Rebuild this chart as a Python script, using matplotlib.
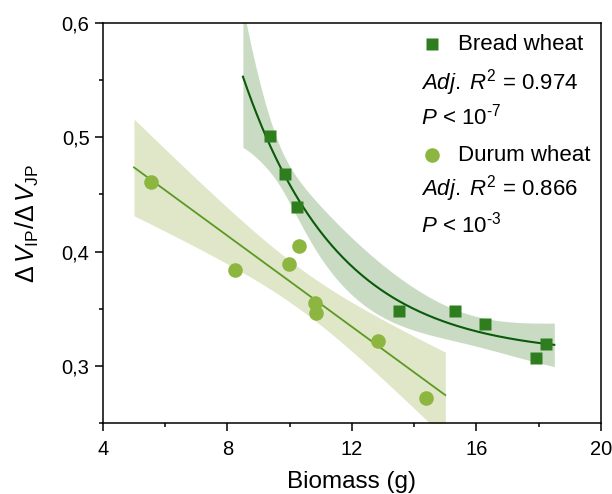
import numpy as np
import matplotlib
matplotlib.use("Agg")
import matplotlib.pyplot as plt
from matplotlib.ticker import MultipleLocator, FuncFormatter

plt.rcParams['font.family'] = ['Liberation Sans', 'DejaVu Sans']
plt.rcParams['mathtext.fontset'] = 'custom'
plt.rcParams['mathtext.rm'] = 'Liberation Sans'
plt.rcParams['mathtext.it'] = 'Liberation Sans:italic'
plt.rcParams['mathtext.bf'] = 'Liberation Sans:bold'

# ---- data ----
bread_x = [9.37, 9.85, 10.23, 13.52, 15.32, 16.27, 17.91, 18.25]
bread_y = [0.501, 0.468, 0.439, 0.348, 0.348, 0.337, 0.307, 0.319]
durum_x = [5.54, 8.24, 9.98, 10.30, 10.81, 10.84, 12.84, 14.38]
durum_y = [0.461, 0.384, 0.389, 0.405, 0.355, 0.346, 0.322, 0.272]
bread_fit_range = [8.5, 18.5]
durum_fit_range = [5.0, 15.0]
# exponential decay fit y = y0 + A*exp(-x/t), parameters
bread_y0 = 0.309
bread_A = 3.89
bread_t = 3.07
bread_label = "Bread wheat"
durum_label = "Durum wheat"
bread_stats = [r"$\mathit{Adj.\;R}^{2}$ = 0.974", r"$\it{P}$ < 10$^{\text{-7}}$"]
durum_stats = [r"$\mathit{Adj.\;R}^{2}$ = 0.866", r"$\it{P}$ < 10$^{\text{-3}}$"]
xticks = [4, 8, 12, 16, 20]
yticks = [0.3, 0.4, 0.5, 0.6]
T95_DF5 = 2.571
T95_DF6 = 2.447

c_bread = '#2e7d1f'
c_bread_line = '#0b5a0b'
c_bread_band = '#c6dac0'
c_durum = '#8cb63f'
c_durum_line = '#5a9a22'
c_durum_band = '#e0e6c8'

bx, by = np.array(bread_x), np.array(bread_y)
dx, dy = np.array(durum_x), np.array(durum_y)

# ---- durum: linear fit with 95% CI ----
n = len(dx)
X = np.column_stack([np.ones(n), dx])
beta, *_ = np.linalg.lstsq(X, dy, rcond=None)
res = dy - X @ beta
s2 = res @ res / (n - 2)
cov = s2 * np.linalg.inv(X.T @ X)
xd = np.linspace(*durum_fit_range, 200)
Xd = np.column_stack([np.ones_like(xd), xd])
yd = Xd @ beta
sed = np.sqrt(np.einsum('ij,jk,ik->i', Xd, cov, Xd))

# ---- bread: exponential decay with 95% CI (delta method) ----
def model(x):
    return bread_y0 + bread_A * np.exp(-x / bread_t)
def jac(x):
    e = np.exp(-x / bread_t)
    return np.column_stack([np.ones_like(x), e, bread_A * e * x / bread_t**2])
J = jac(bx)
sse = np.sum((by - model(bx)) ** 2)
s2b = sse / (len(bx) - 3)
covb = s2b * np.linalg.inv(J.T @ J)
xb = np.linspace(*bread_fit_range, 200)
yb = model(xb)
Jb = jac(xb)
seb = np.sqrt(np.einsum('ij,jk,ik->i', Jb, covb, Jb))

# ---- plot ----
fig = plt.figure(figsize=(6.12, 4.94), dpi=100)
ax = fig.add_axes([0.168, 0.1437, 0.982 - 0.168, 0.9534 - 0.1437])

ax.fill_between(xd, yd - T95_DF6 * sed, yd + T95_DF6 * sed, color=c_durum_band, lw=0, zorder=1)
ax.fill_between(xb, yb - T95_DF5 * seb, yb + T95_DF5 * seb, color=c_bread_band, lw=0, zorder=1, alpha=0.95)
ax.plot(xd, yd, color=c_durum_line, lw=1.3, zorder=2)
ax.plot(xb, yb, color=c_bread_line, lw=1.5, zorder=2)
ax.plot(dx, dy, 'o', ms=10.5, color=c_durum, mec='none', zorder=3)
ax.plot(bx, by, 's', ms=9, color=c_bread, mec='none', zorder=3)

ax.set_xlim(4, 20)
ax.set_ylim(0.25, 0.6)
ax.set_xticks(xticks)
ax.set_yticks(yticks)
ax.xaxis.set_minor_locator(MultipleLocator(2))
ax.yaxis.set_minor_locator(MultipleLocator(0.05))
ax.yaxis.set_major_formatter(FuncFormatter(lambda v, p: f"{v:.1f}".replace('.', ',')))
ax.tick_params(which='major', direction='out', length=6, width=1.1, labelsize=14.5,
               top=False, right=False)
ax.tick_params(axis='x', which='major', pad=6)
ax.tick_params(axis='y', which='major', pad=3.5)
ax.tick_params(which='minor', direction='out', length=3, width=1.1, top=False, right=False)
for s in ax.spines.values():
    s.set_linewidth(1.1)

ax.set_xlabel("Biomass (g)", fontsize=17.5, labelpad=9)
ax.set_ylabel(r"$\Delta\,V_{\mathrm{IP}}/\Delta\,V_{\mathrm{JP}}$", fontsize=18, labelpad=15)

# legend-like annotations
tr = ax.transAxes
def ax_xy(px, py):
    return ((px - 103) / (601 - 103), (423 - py) / (423 - 23))
fs = 16
mx, my = ax_xy(432, 44)
ax.plot([mx], [my], 's', ms=9, color=c_bread, mec='none', transform=tr, clip_on=False)
ax.text(*ax_xy(458, 44), bread_label, transform=tr, fontsize=fs, va='center', ha='left')
ax.text(*ax_xy(421, 83), bread_stats[0], transform=tr, fontsize=fs, va='center', ha='left')
ax.text(*ax_xy(421, 117), bread_stats[1], transform=tr, fontsize=fs, va='center', ha='left')
mx, my = ax_xy(432, 155)
ax.plot([mx], [my], 'o', ms=10.5, color=c_durum, mec='none', transform=tr, clip_on=False)
ax.text(*ax_xy(458, 155), durum_label, transform=tr, fontsize=fs, va='center', ha='left')
ax.text(*ax_xy(421, 189), durum_stats[0], transform=tr, fontsize=fs, va='center', ha='left')
ax.text(*ax_xy(421, 225), durum_stats[1], transform=tr, fontsize=fs, va='center', ha='left')

fig.savefig("out.png", dpi=100)
